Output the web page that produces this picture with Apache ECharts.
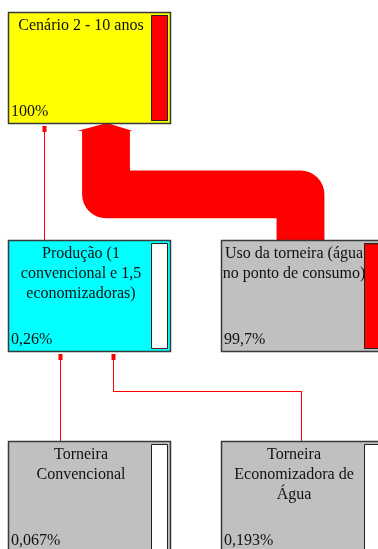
<!DOCTYPE html>
<html>
<head>
<meta charset="utf-8">
<script src="https://cdn.jsdelivr.net/npm/echarts@6/dist/echarts.min.js"></script>
<style>
  html, body { margin: 0; padding: 0; background: #fff; }
  #main { width: 378px; height: 549px; }
</style>
</head>
<body>
<div id="main"></div>
<script>
// process tree: names, share of total impact (%), fill colour
var nodeNames = [
  'Cenário 2 - 10 anos',
  'Produção (1\nconvencional e 1,5\neconomizadoras)',
  'Uso da torneira (água\nno ponto de consumo)',
  'Torneira\nConvencional',
  'Torneira\nEconomizadora de\nÁgua'
];
var nodeShares = [100, 0.26, 99.7, 0.067, 0.193];
var nodeColors = ['#ffff00', '#00ffff', '#c0c0c0', '#c0c0c0', '#c0c0c0'];

// flows: child -> parent, value in %
var linkSource = [1, 2, 3, 4];
var linkTarget = [0, 0, 1, 1];
var linkValue = [0.26, 99.7, 0.067, 0.193];

// layout of the diagram (axis units = px)
var colX = [8, 221];
var rowY = [12, 240, 441];
var nodeCol = [0, 0, 1, 0, 1];
var nodeRow = [0, 1, 1, 2, 2];
var boxW = 162, boxH = 111;
var linkSrcOff = [36, 79.5, 52, 80];
var linkDstOff = [36, 98, 52, 105];
var linkElbow = [0.5, 0.61, 0.5, 0.44];

function fmtPct(v) {
  return String(v).replace('.', ',') + '%';
}

function boxRect(api, i) {
  var p = api.coord([colX[nodeCol[i]], rowY[nodeRow[i]]]);
  var s = api.size([boxW, boxH]);
  return { x: p[0], y: p[1], w: s[0], h: s[1] };
}

// thin connector piece, drawn as a 1px filled rect
function seg(x1, y1, x2, y2) {
  var x = Math.min(x1, x2), y = Math.min(y1, y2);
  return {
    type: 'rect',
    shape: { x: x, y: y, width: Math.max(1, Math.abs(x2 - x1) + (x1 === x2 ? 0 : 1)), height: Math.max(1, Math.abs(y2 - y1)) },
    style: { fill: '#ff0000' }
  };
}

var myChart = echarts.init(document.getElementById('main'));

var option = {
  animation: false,
  grid: { left: 0, right: 0, top: 0, bottom: 0 },
  xAxis: { type: 'value', min: 0, max: 378, show: false },
  yAxis: { type: 'value', min: 0, max: 549, inverse: true, show: false },
  series: [
    {
      type: 'custom',
      coordinateSystem: 'cartesian2d',
      clip: false,
      data: linkValue.map(function (v, i) { return [i, v]; }),
      renderItem: function (params, api) {
        var i = api.value(0);
        var v = api.value(1);
        var src = boxRect(api, linkSource[i]);
        var dst = boxRect(api, linkTarget[i]);
        var sx = src.x + linkSrcOff[i];
        var dx = dst.x + linkDstOff[i];
        var sy = src.y;
        var dy = dst.y + dst.h;
        var w = Math.max(1, v * 0.48);
        var ey = dy + (sy - dy) * linkElbow[i];
        var children = [];
        if (w > 3) {
          var headY = dy + 8;
          var pts = [[sx, sy], [sx, ey], [dx, ey], [dx, headY]];
          children.push({
            type: 'polyline',
            shape: { points: pts },
            style: { stroke: '#ff0000', lineWidth: w, lineJoin: 'round', lineCap: 'butt', fill: null }
          });
          children.push({
            type: 'polygon',
            shape: { points: [[dx - w / 2 - 5, headY], [dx + w / 2 + 3, headY], [dx + 1, dy]] },
            style: { fill: '#ff0000' }
          });
        } else {
          sx = Math.round(sx);
          dx = Math.round(dx);
          ey = Math.round(ey);
          if (Math.abs(sx - dx) < 1) {
            children.push(seg(sx, sy, sx, dy + 3));
          } else {
            children.push(seg(sx, sy, sx, ey));
            children.push(seg(sx, ey, dx, ey));
            children.push(seg(dx, ey, dx, dy + 3));
          }
          children.push({
            type: 'rect',
            shape: { x: dx - 1.5, y: dy + 3, width: 4, height: 6 },
            style: { fill: '#ff0000' }
          });
        }
        return { type: 'group', children: children };
      }
    },
    {
      type: 'custom',
      coordinateSystem: 'cartesian2d',
      clip: false,
      data: nodeShares.map(function (v, i) { return [i, v]; }),
      renderItem: function (params, api) {
        var i = api.value(0);
        var share = api.value(1);
        var r = boxRect(api, i);
        var bx = r.x + 143, by = r.y + 3, bw = 16, bh = r.h - 6;
        var fillH = bh * share / 100;
        return {
          type: 'group',
          children: [
            {
              type: 'rect',
              shape: { x: r.x + 0.5, y: r.y + 0.5, width: r.w, height: r.h },
              style: { fill: nodeColors[i], stroke: '#3a3a3a', lineWidth: 1.5 }
            },
            {
              type: 'rect',
              shape: { x: bx + 0.5, y: by + 0.5, width: bw, height: bh },
              style: { fill: '#ffffff', stroke: '#222', lineWidth: 1 }
            },
            {
              type: 'rect',
              shape: { x: bx + 0.5, y: by + bh - fillH + 0.5, width: bw, height: fillH },
              style: { fill: '#ff0000', stroke: fillH > 1 ? '#222' : null, lineWidth: 1 }
            },
            {
              type: 'text',
              style: {
                text: nodeNames[i],
                x: r.x + 73, y: r.y + 4,
                align: 'center', verticalAlign: 'top',
                font: '16px "Liberation Serif"', lineHeight: 20,
                fill: '#111'
              }
            },
            {
              type: 'text',
              style: {
                text: fmtPct(share),
                x: r.x + 3, y: r.y + r.h - 3,
                align: 'left', verticalAlign: 'bottom',
                font: '16px "Liberation Serif"',
                fill: '#111'
              }
            }
          ]
        };
      }
    }
  ]
};
option && myChart.setOption(option);
</script>
</body>
</html>
